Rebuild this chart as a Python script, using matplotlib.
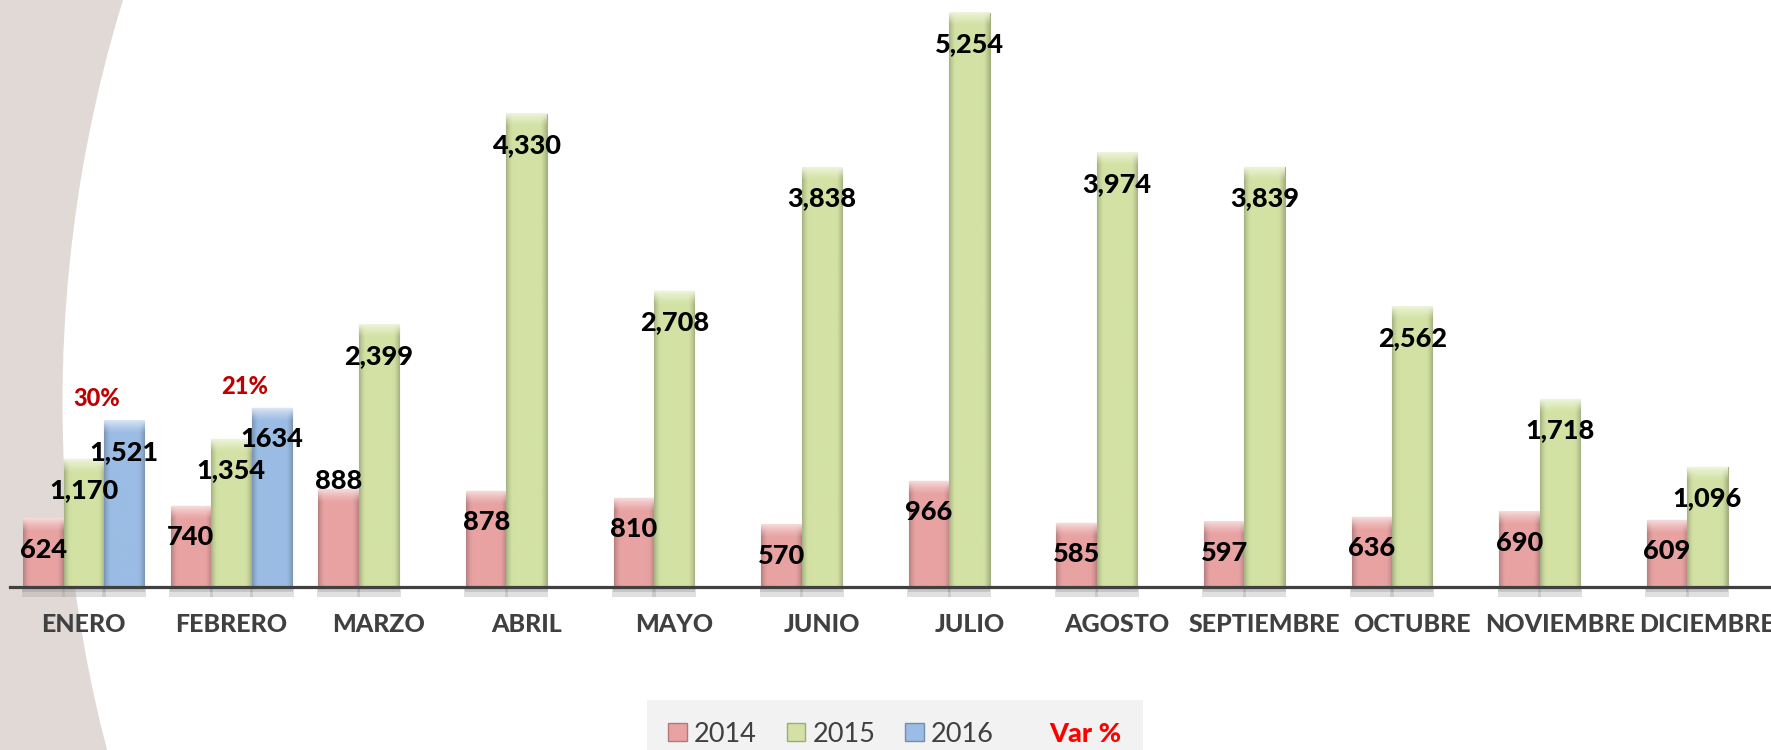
import numpy as np
import matplotlib
matplotlib.use("Agg")
import matplotlib.pyplot as plt
from matplotlib.patches import Patch, Circle, Rectangle
from matplotlib.colors import to_rgb

# data
months = ["ENERO", "FEBRERO", "MARZO", "ABRIL", "MAYO", "JUNIO", "JULIO",
          "AGOSTO", "SEPTIEMBRE", "OCTUBRE", "NOVIEMBRE", "DICIEMBRE"]
v2014 = [624, 740, 888, 878, 810, 570, 966, 585, 597, 636, 690, 609]
v2015 = [1170, 1354, 2399, 4330, 2708, 3838, 5254, 3974, 3839, 2562, 1718, 1096]
v2016 = [1521, 1634]
labels_2016 = ["1,521", "1634"]
years = ["2014", "2015", "2016"]

col = {"2014": "#e8a2a2", "2015": "#d3e2a4", "2016": "#9bbce4"}
dark_text = "#404040"
W, H = 1771, 750
ymax = 5371
base_px = 587
px_unit = base_px / ymax

fig = plt.figure(figsize=(W / 100, H / 100), dpi=100)

# background: beige swoosh on the left
bg = fig.add_axes([0, 0, 1, 1], zorder=0)
bg.set_xlim(0, W)
bg.set_ylim(H, 0)
bg.axis("off")
bg.add_patch(Rectangle((0, 0), W, H, color="#e1d9d6"))
for dr, a, c in [(16, 0.35, "#efe9e2"), (10, 0.5, "#f6f2ec"), (5, 0.6, "white"), (0, 1.0, "white")]:
    bg.add_patch(Circle((1436, 403), 1373.5 - dr, color=c, alpha=a, lw=0))

ax = fig.add_axes([10 / W, (H - base_px) / H, 12 * 147.6 / W, base_px / H], zorder=1)
ax.set_facecolor("none")

bw = 0.274
x = np.arange(len(months))


def bevel(color, h_px, w_px=40):
    base = np.array(to_rgb(color))
    dark = base * 0.80
    light = base + (1 - base) * 0.6
    xs = np.linspace(0, 1, w_px)
    edge = np.clip(1 - np.minimum(xs, 1 - xs) / 0.16, 0, 1) ** 1.5
    row = base[None, :] * (1 - edge[:, None]) + dark[None, :] * edge[:, None]
    img = np.repeat(row[None, :, :], max(h_px, 2), axis=0)
    k = min(14, img.shape[0])
    t = np.linspace(1, 0, k) ** 1.3
    img[:k] = img[:k] * (1 - t[:, None, None]) + light * t[:, None, None]
    return np.clip(img, 0, 1)


groups = [(x - bw, v2014, "2014"), (x, v2015, "2015"), (x[:2] + bw, v2016, "2016")]
for xs, vals, yr in groups:
    # soft shadow under the bars
    ax.bar(xs, [-10 / px_unit] * len(vals), bw * 1.08, color="#9a9a9a", alpha=0.3,
           clip_on=False, zorder=1, lw=0)
    ax.bar(xs, [-5 / px_unit] * len(vals), bw * 1.04, color="#8a8a8a", alpha=0.3,
           clip_on=False, zorder=1, lw=0)
    bars = ax.bar(xs, vals, bw, color=col[yr], edgecolor=np.array(to_rgb(col[yr])) * 0.78,
                  lw=0.8, zorder=2)
    for r in bars:
        hp = int(round(r.get_height() * px_unit))
        ax.imshow(bevel(col[yr], hp), extent=[r.get_x(), r.get_x() + r.get_width(), 0, r.get_height()],
                  aspect="auto", zorder=2.1, interpolation="bilinear")

lab_font = dict(fontsize=19.5, fontweight="black", family="Lato", color="black", zorder=4)

for i, v in enumerate(v2014):
    off = 6.5 if months[i] == "MARZO" else -22.3
    ax.annotate(f"{v:,}", (x[i] - bw, v), xytext=(0, off), textcoords="offset points",
                ha="center", va="center", **lab_font)
for i, v in enumerate(v2015):
    ax.annotate(f"{v:,}", (x[i], v), xytext=(0, -22.3), textcoords="offset points",
                ha="center", va="center", **lab_font)
for i, v in enumerate(v2016):
    ax.annotate(labels_2016[i], (x[i] + bw, v), xytext=(0, -22.3), textcoords="offset points",
                ha="center", va="center", **lab_font)
    pct = (v - v2015[i]) / v2015[i] * 100
    ax.annotate(f"{pct:.0f}%", (x[i] + 0.09, v), xytext=(0, 16), textcoords="offset points",
                ha="center", va="center", fontsize=17, fontweight="black", family="Lato",
                color="#c00000", zorder=4)

ax.axhline(0, color=dark_text, lw=2.3, clip_on=False, zorder=3)
ax.set_xlim(-0.5, len(months) - 0.5)
ax.set_ylim(0, ymax)
ax.set_yticks([])
for s in ax.spines.values():
    s.set_visible(False)
ax.set_xticks(x)
ax.set_xticklabels(months, fontsize=18, fontweight="black", family="Lato", color=dark_text)
ax.tick_params(axis="x", length=0, pad=19)

handles = [Patch(facecolor=col[y], edgecolor=np.array(to_rgb(col[y])) * 0.75) for y in years]
handles.append(Patch(facecolor="none", edgecolor="none"))
leg = fig.legend(handles, years + ["Var %"], loc="center", ncol=4,
                 bbox_to_anchor=(895 / W, 1 - 734 / H), frameon=True, fancybox=False,
                 prop={"family": "Lato", "size": 19.5}, handlelength=0.68, handleheight=0.68,
                 handletextpad=0.27, columnspacing=1.1, borderpad=0.8)
leg.get_frame().set_facecolor("#f2f2f2")
leg.get_frame().set_edgecolor("none")
leg.get_frame().set_alpha(1)
for t in leg.get_texts():
    t.set_color(dark_text)
leg.get_texts()[3].set_color("red")
leg.get_texts()[3].set_fontweight("black")

fig.savefig("out.png", dpi=100)
